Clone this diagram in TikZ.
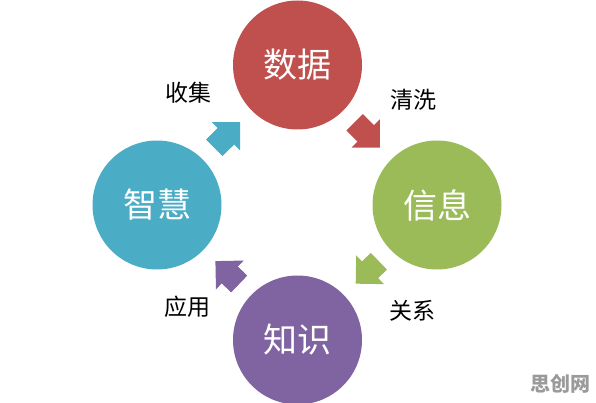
\documentclass[tikz,border=0pt]{standalone}
\usepackage{fontspec}
\newfontfamily\cjk{Noto Sans CJK SC}
\usetikzlibrary{arrows.meta}
\definecolor{cred}{HTML}{C0504D}
\definecolor{cgreen}{HTML}{9BBB59}
\definecolor{cpurple}{HTML}{8064A2}
\definecolor{cblue}{HTML}{4BACC6}
\definecolor{wm}{HTML}{9A9A9A}
\tikzset{
  stage/.style={circle, fill=#1, draw=none, inner sep=0pt, outer sep=0pt,
    minimum size=129pt, text=white, font=\cjk\fontsize{34}{36}\selectfont},
  flow/.style={draw=#1, line width=23pt,
    -{Triangle[width=40pt,length=20pt,line width=0pt]},
    shorten <=16.5pt, shorten >=16.5pt,
    preaction={draw=#1, line width=23pt, -, shorten <=16.5pt, shorten >=33pt}},
  lbl/.style={text=black, inner sep=0pt, font=\cjk\fontsize{23}{25}\selectfont},
}
\begin{document}
\begin{tikzpicture}[x=1pt,y=-1pt]
\useasboundingbox (0,0) rectangle (596,403);
\node[stage=cred] (data) at (297.5,65) {数据};
\node[stage=cgreen] (info) at (437,205) {信息};
\node[stage=cpurple] (know) at (297.5,340) {知识};
\node[stage=cblue] (wis) at (157,205) {智慧};
\draw[flow=cred] (data) -- (info);
\draw[flow=cgreen] (info) -- (know);
\draw[flow=cpurple] (know) -- (wis);
\draw[flow=cblue] (wis) -- (data);
\node[lbl] (l1) at (188,93) {收集};
\node[lbl] (l2) at (413,100) {清洗};
\node[lbl] (l3) at (412.5,311) {关系};
\node[lbl] (l4) at (187.5,307) {应用};
\node[text=wm, inner sep=0pt, font=\cjk\bfseries\fontsize{20}{22}\selectfont] (wmk) at (560,384) {思创网};
\end{tikzpicture}
\end{document}
